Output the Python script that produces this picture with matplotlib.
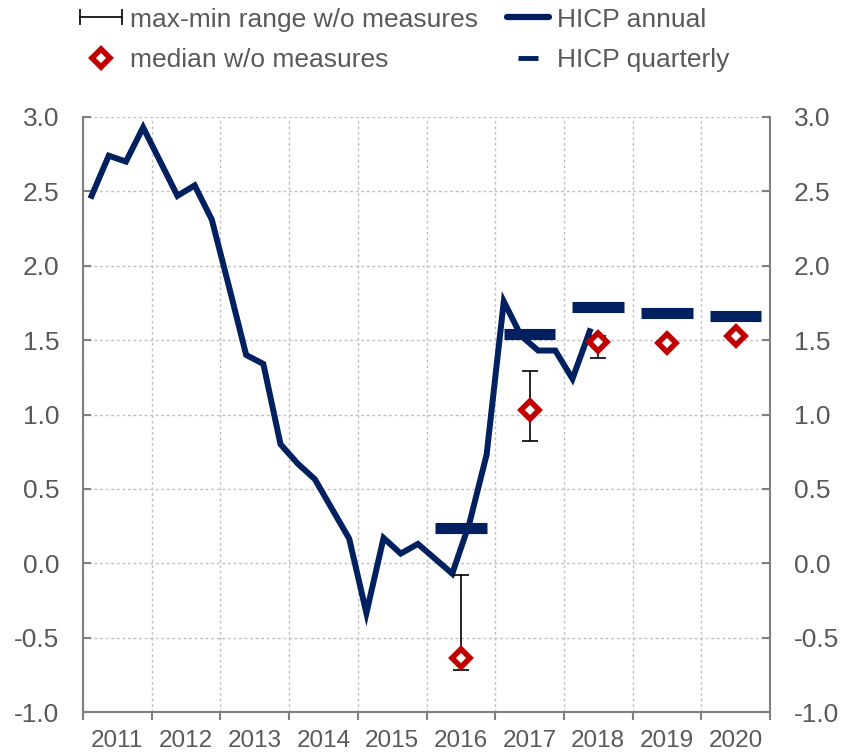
import matplotlib
matplotlib.use('Agg')
import matplotlib.pyplot as plt
import numpy as np
from matplotlib.lines import Line2D
from matplotlib.legend_handler import HandlerLine2D
from matplotlib.ticker import FormatStrFormatter

plt.rcParams['font.family'] = ['Liberation Sans', 'DejaVu Sans']

# ---------------- data ----------------
years = [2011, 2012, 2013, 2014, 2015, 2016, 2017, 2018, 2019, 2020]
year_labels = [str(y) for y in years]

# quarterly HICP line, starting 2011Q1 (ends 2018Q2)
hicp_quarterly = [2.47, 2.74, 2.70, 2.93,
                  2.70, 2.47, 2.54, 2.31,
                  1.86, 1.40, 1.34, 0.80,
                  0.67, 0.565, 0.365, 0.165,
                  -0.335, 0.17, 0.065, 0.13,
                  0.03, -0.07, 0.27, 0.73,
                  1.76, 1.53, 1.43, 1.43,
                  1.24, 1.56]

proj_years = [2016, 2017, 2018, 2019, 2020]
hicp_annual = [0.24, 1.54, 1.72, 1.68, 1.66]
median_wo = [-0.64, 1.03, 1.49, 1.48, 1.53]
max_wo = [-0.08, 1.29, 1.53, np.nan, np.nan]
min_wo = [-0.72, 0.82, 1.38, np.nan, np.nan]

legend_labels = ['max-min range w/o measures', 'median w/o measures',
                 'HICP annual', 'HICP quarterly']

NAVY = '#002060'
RED = '#C00000'
GRAY = '#808080'
TXT = '#595959'

# ---------------- figure ----------------
fig = plt.figure(figsize=(8.46, 7.56), dpi=100)
ax = fig.add_axes([83 / 846, 44 / 756, 687 / 846, 595 / 756])

qx = 2011 + (np.arange(len(hicp_quarterly)) + 0.5) / 4.0
py = np.array(proj_years, dtype=float)
med = np.array(median_wo)
mx = np.array(max_wo)
mn = np.array(min_wo)

# annual bars
ax.hlines(hicp_annual, py + 0.125, py + 0.875, colors=NAVY, linewidth=8, zorder=3)

# quarterly line
ax.plot(qx, hicp_quarterly, color=NAVY, lw=4.3, solid_joinstyle='miter', zorder=4)

# error bars
ok = ~np.isnan(mx)
ax.errorbar(py[ok] + 0.5, med[ok], yerr=[med[ok] - mn[ok], mx[ok] - med[ok]],
            fmt='none', ecolor='black', elinewidth=1.2, capsize=6, capthick=1.2, zorder=5)

# medians
ax.plot(py + 0.5, med, ls='none', marker='D', ms=9, mfc='white', mec=RED, mew=4, zorder=6)

# axes
ax.set_xlim(2011, 2021)
ax.set_ylim(-1, 3)
ax.set_xticks(np.arange(2011, 2022))
ax.set_xticklabels([])
ax.set_xticks(np.array(years) + 0.5, minor=True)
ax.set_xticklabels(year_labels, minor=True)
ax.set_yticks(np.arange(-1, 3.01, 0.5))
ax.yaxis.set_major_formatter(FormatStrFormatter('%.1f'))

ax.tick_params(axis='x', which='major', direction='out', length=6, width=1.5, color=GRAY)
ax.tick_params(axis='x', which='minor', length=0, pad=13, labelsize=17.5, labelcolor=TXT)
ax.tick_params(axis='y', direction='in', length=6, width=1.5, color=GRAY,
               left=True, right=True, labelleft=True, labelright=True,
               pad=17, labelsize=19, labelcolor=TXT)

ax.grid(axis='both', which='major', color='#BFBFBF', linestyle=(0, (2, 2)), lw=1)
ax.set_axisbelow(True)

ax.spines['top'].set_visible(False)
for s in ['left', 'right', 'bottom']:
    ax.spines[s].set_color(GRAY)
    ax.spines[s].set_linewidth(1.5)

# legend
h_err = Line2D([], [], color='black', lw=1.2, marker='|', ms=11, mew=1.2)
h_med = Line2D([], [], ls='none', marker='D', ms=9, mfc='white', mec=RED, mew=4)
h_ann = Line2D([], [], color=NAVY, lw=4.5, solid_capstyle='round')
h_q = Line2D([], [], ls='none', marker='_', ms=14, mew=3.5, color=NAVY)

fig.legend([h_err, h_med, h_ann, h_q], legend_labels,
           handler_map={h_err: HandlerLine2D(numpoints=2, marker_pad=0)},
           loc='upper left', bbox_to_anchor=(0.094, 0.990), ncol=2, frameon=False,
           fontsize=19, handlelength=1.6, handletextpad=0.3, columnspacing=1.1,
           labelspacing=0.62, borderaxespad=0, borderpad=0, labelcolor=TXT)

fig.savefig('out.png', dpi=100)
